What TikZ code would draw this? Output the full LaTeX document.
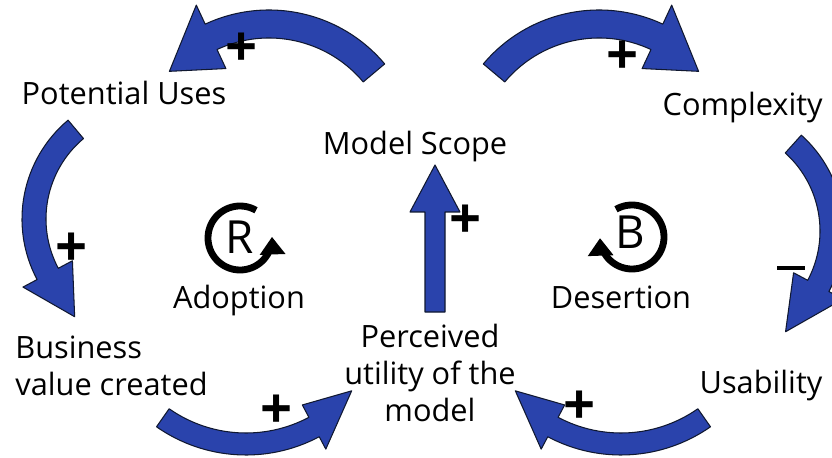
\documentclass[tikz,border=0pt]{standalone}
\usepackage{fontspec}
\setmainfont{Open Sans}
\usetikzlibrary{arrows.meta,calc}
\definecolor{loopBlue}{HTML}{2A43AC}
\definecolor{loopEdge}{HTML}{101830}

\tikzset{
  band/.style={fill=loopBlue,draw=loopEdge,line width=0.6pt,line join=round},
  varlabel/.style={inner sep=0pt,font=\fontsize{17.5}{21.3}\selectfont},
  polarity/.style={inner sep=0pt,font=\bfseries\fontsize{32}{32}\selectfont},
  loopline/.style={line width=3.9pt,-{Triangle[width=14pt,length=10pt]}},
  looptag/.style={inner sep=0pt,font=\fontsize{26}{26}\selectfont}
}

% fat curved arrow: centre, radius, half width, head half width,
% tail angle, head base angle, tip angle, tip radius
\newcommand{\fatarc}[8]{%
  \filldraw[band] ($(#1)+({#5}:{#2+#3})$) arc[start angle=#5,end angle=#6,radius={#2+#3}]
    -- ($(#1)+({#6}:{#2+#4})$) -- ($(#1)+({#7}:{#8})$) -- ($(#1)+({#6}:{#2-#4})$)
    -- ($(#1)+({#6}:{#2-#3})$) arc[start angle=#6,end angle=#5,radius={#2-#3}] -- cycle;}

\begin{document}
\begin{tikzpicture}[x=0.02cm,y=0.02cm]
\useasboundingbox (0,0) rectangle (832,457);
\clip (0,0) rectangle (832,457);

% variables
\node[varlabel,anchor=base] (uses) at (124,352) {Potential Uses};
\node[varlabel,anchor=base] (scope) at (415,302) {Model Scope};
\node[varlabel,anchor=base east] (cplx) at (823,341) {Complexity};
\node[varlabel,anchor=west,align=left] (biz) at (15,91) {Business\\value created};
\node[varlabel,align=center] (util) at (430,84) {Perceived\\utility of the\\model};
\node[varlabel,anchor=base] (usab) at (761,64) {Usability};

% links
\coordinate (cTL) at (269,296);
\coordinate (cTR) at (599,296);
\coordinate (cL) at (151,238);
\coordinate (cR) at (715,226);
\coordinate (cBL) at (246,158);
\coordinate (cBR) at (621,158);
\fatarc{cTL}{137}{14}{35}{40}{115}{138}{134}
\fatarc{cTR}{137}{14}{35}{140}{65}{42}{134}
\fatarc{cL}{117}{12}{28}{130}{208}{232}{124}
\fatarc{cR}{117}{12}{28}{48}{-28}{-55}{123}
\fatarc{cBL}{145}{11}{25}{235}{298}{319}{140}
\fatarc{cBR}{145}{11}{25}{-55}{-118}{-139}{140}

\coordinate (vfoot) at (435,145);
\coordinate (vtip) at (435,292);
\filldraw[band] ($(vfoot)+(-10,0)$) -- ($(vtip)+(-10,-47)$) -- ($(vtip)+(-25,-47)$) -- (vtip)
  -- ($(vtip)+(25,-47)$) -- ($(vtip)+(10,-47)$) -- ($(vfoot)+(10,0)$) -- cycle;

% polarities
\node[polarity] (pTL) at (242,407) {+};
\node[polarity] (pTR) at (623,399) {+};
\node[polarity] (pL) at (72,207) {+};
\node[polarity] (pR) at (791,189) {\rule{15.5pt}{2.6pt}};
\node[polarity] (pBL) at (277,45) {+};
\node[polarity] (pBR) at (580,49) {+};
\node[polarity] (pV) at (466,235) {+};

% loops
\coordinate (rc) at (240,219);
\coordinate (bc) at (632,220);
\draw[loopline] ($(rc)+(60:32)$) arc[start angle=60,end angle=362,radius=32];
\node[looptag] (rtag) at (240,220) {R};
\node[varlabel,anchor=base] (adopt) at (239,149) {Adoption};
\draw[loopline] ($(bc)+(120:32)$) arc[start angle=120,end angle=-178,radius=32];
\node[looptag] (btag) at (630,225) {B};
\node[varlabel,anchor=base] (desert) at (621,149) {Desertion};
\end{tikzpicture}
\end{document}
